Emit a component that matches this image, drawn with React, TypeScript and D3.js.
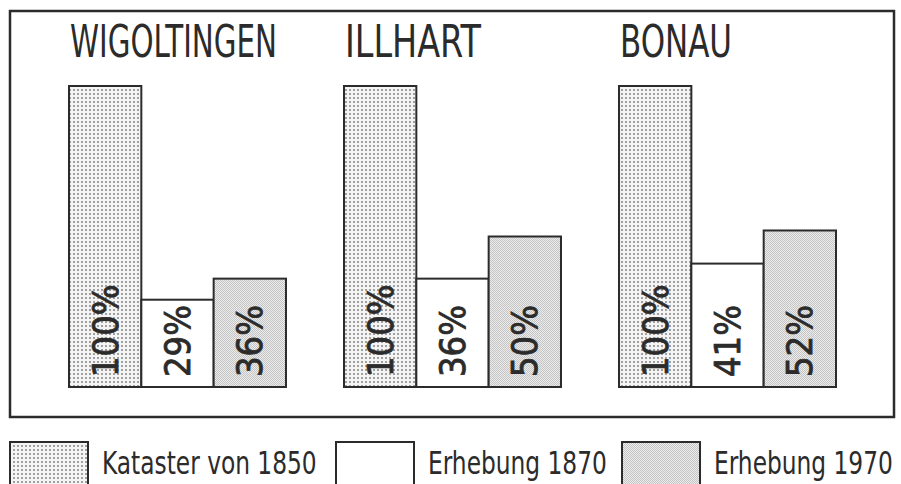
import React from 'react';
import * as d3 from 'd3';

const places = ['WIGOLTINGEN', 'ILLHART', 'BONAU'];
const series = ['Kataster von 1850', 'Erhebung 1870', 'Erhebung 1970'];
const kataster1850 = [100, 100, 100];
const erhebung1870 = [29, 36, 41];
const erhebung1970 = [36, 50, 52];
const seriesValues = [kataster1850, erhebung1870, erhebung1970];

const W = 901;
const H = 484;
const ink = '#2b2b2b';
const font = '"DejaVu Sans Condensed", "DejaVu Sans", sans-serif';
const fills = ['url(#dots1850)', '#ffffff', 'url(#dots1970)'];

const App: React.FC = () => {
  const x = d3.scaleBand<string>().domain(places).range([69, 836]).paddingInner(0.211).paddingOuter(0);
  const xs = d3.scaleBand<string>().domain(series).range([0, x.bandwidth()]).padding(0);
  const y = d3.scaleLinear().domain([0, 100]).range([387, 86]);

  // fitted text widths as measured on the reference
  const titleW = [207, 136, 112];
  const legendX = [10, 336, 622];

  return (
    <svg width={W} height={H} style={{ position: 'absolute', left: 0, top: 0, background: '#fff' }}>
      <defs>
        <pattern id="dots1850" width="4" height="4" patternUnits="userSpaceOnUse">
          <rect width="4" height="4" fill="#f4f4f4" />
          <rect x="1" y="1" width="2" height="2" fill="#a0a0a0" />
        </pattern>
        <pattern id="dots1970" width="2" height="2" patternUnits="userSpaceOnUse">
          <rect width="2" height="2" fill="#ececec" />
          <rect width="1" height="1" fill="#c4c4c4" />
          <rect x="1" y="1" width="1" height="1" fill="#c4c4c4" />
        </pattern>
      </defs>
      <rect x={0} y={0} width={W} height={H} fill="#fff" />
      <rect x={10} y={11} width={884} height={406} fill="none" stroke={ink} strokeWidth={2.5} />

      {places.map((p, i) => (
        <g key={p}>
          <text
            x={(x(p) ?? 0) + 1}
            y={57}
            fontFamily={font}
            fontSize={44}
            fill={ink}
            textLength={titleW[i]}
            lengthAdjust="spacingAndGlyphs"
          >
            {p}
          </text>
          {series.map((s, j) => {
            const v = seriesValues[j][i];
            const bx = (x(p) ?? 0) + (xs(s) ?? 0);
            const cx = bx + xs.bandwidth() / 2;
            return (
              <g key={s}>
                <rect
                  x={bx}
                  y={y(v)}
                  width={xs.bandwidth()}
                  height={y(0) - y(v)}
                  fill={fills[j]}
                  stroke={ink}
                  strokeWidth={2}
                />
                <text
                  transform={`translate(${cx},${y(0) - 10}) rotate(-90)`}
                  dominantBaseline="central"
                  fontFamily={font}
                  fontSize={36}
                  fill={ink}
                  stroke={ink}
                  strokeWidth={0.8}
                >
                  {v}%
                </text>
              </g>
            );
          })}
        </g>
      ))}

      {series.map((s, j) => (
        <g key={s}>
          <rect x={legendX[j]} y={442} width={78} height={46} fill={fills[j]} stroke={ink} strokeWidth={2} />
          <text
            transform={`translate(${legendX[j] + 92},474) scale(0.81,1)`}
            fontFamily={font}
            fontSize={32}
            fill={ink}
          >
            {s}
          </text>
        </g>
      ))}
    </svg>
  );
};

export default App;
